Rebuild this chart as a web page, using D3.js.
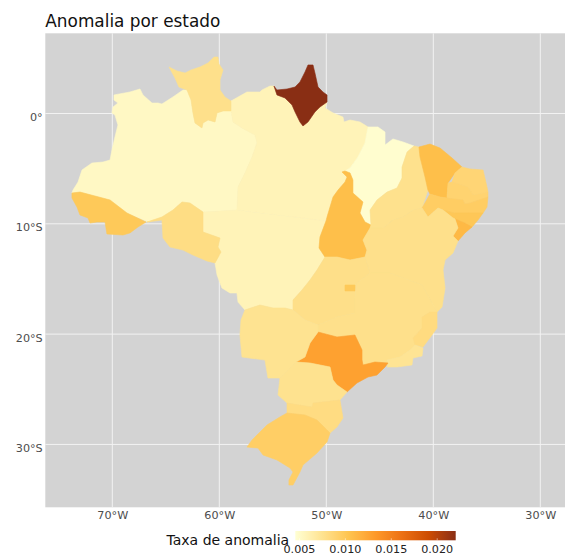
<!DOCTYPE html>
<html>
<head>
<meta charset="utf-8">
<script src="https://cdn.jsdelivr.net/npm/d3@7"></script>
<style>
html, body { margin: 0; padding: 0; background: #fff; overflow: hidden; }
svg { display: block; }
svg text { font-family: "DejaVu Sans", sans-serif; }
</style>
</head>
<body>
<div id="map"></div>
<script>
// anomaly rate
var stateNames = ['AM','PA','MT','MA','RR','RO','AC','AP','TO','PI','CE','RN','PB','PE','AL','SE','BA','GO','DF','MG','ES','RJ','SP','PR','MS','SC','RS']
var anomalyRates = [0.0053,0.0058,0.0058,0.0048,0.0078,0.0081,0.0100,0.0221,0.0108,0.0077,0.0108,0.0088,0.0090,0.0096,0.0101,0.0112,0.0078,0.0079,0.0100,0.0078,0.0083,0.0074,0.0128,0.0076,0.0075,0.0082,0.0095]

var xTicks = [-70,-60,-50,-40,-30]
var yTicks = [0,-10,-20,-30]
var legendTicks = [0.005,0.010,0.015,0.020]
var fillColors = ['#FFFFD4','#FEE391','#FEC44F','#FE9929','#EC7014','#CC4C02','#8A2E14']

// state borders, [lon, lat]
var AM = [[-69.84,1.68],[-68.35,1.95],[-67.41,2.22],[-67.13,1.68],[-66.29,0.95],[-65.73,0.95],[-65.36,0.86],[-64.33,1.5],[-63.39,2.13],[-63.02,2.13],[-62.64,1.22],[-62.46,0.05],[-62.27,-0.86],[-61.62,-1.31],[-61.52,-0.86],[-61.05,-0.59],[-60.4,-0.77],[-60.21,0.05],[-59.65,0.23],[-58.91,0.23],[-58.72,-0.77],[-57.88,-1.31],[-56.66,-1.95],[-56.48,-2.67],[-56.94,-3.94],[-57.6,-5.39],[-58.25,-6.66],[-58.35,-8.75],[-61.52,-8.93],[-62.74,-8.11],[-63.48,-8.02],[-64.33,-8.75],[-65.36,-9.38],[-66.66,-9.84],[-68.63,-9.02],[-70.21,-7.84],[-73.02,-7.12],[-73.77,-7.21],[-73.67,-6.94],[-73.2,-6.21],[-72.83,-5.12],[-71.9,-4.49],[-70.87,-4.4],[-70.21,-4.22],[-70.03,-3.31],[-69.75,-2.13],[-69.47,-1.04],[-69.75,-0.14],[-70.03,0.05],[-69.93,0.59],[-69.47,0.95],[-69.84,1.22]]
var PA = [[-58.91,1.13],[-57.41,1.95],[-56.2,1.95],[-56.01,2.13],[-55.26,2.49],[-54.89,2.49],[-54.61,1.68],[-53.86,1.41],[-53.2,0.77],[-52.92,0.14],[-52.46,-0.77],[-52.18,-1.13],[-51.71,-0.77],[-51.06,0.14],[-50.59,0.59],[-49.93,1.04],[-50.12,0.5],[-49.37,0.05],[-48.44,-0.32],[-48.35,-0.77],[-47.78,-0.59],[-46.85,-0.77],[-46.1,-1.22],[-46.38,-2.67],[-47.04,-3.94],[-47.78,-4.94],[-48.25,-5.21],[-48.53,-5.3],[-48.06,-5.76],[-48.25,-6.21],[-48.9,-6.94],[-49.37,-7.57],[-49.93,-9.38],[-50.03,-9.75],[-58.35,-8.75],[-58.25,-6.66],[-57.6,-5.39],[-56.94,-3.94],[-56.48,-2.67],[-56.66,-1.95],[-57.88,-1.31],[-58.72,-0.77],[-58.91,0.23]]
var MT = [[-61.52,-8.93],[-58.35,-8.75],[-50.03,-9.75],[-50.59,-11.2],[-50.68,-12.19],[-50.12,-13.01],[-50.87,-14.19],[-51.52,-15.09],[-52.27,-16],[-53.11,-16.91],[-53.11,-17.81],[-53.86,-17.63],[-54.98,-17.63],[-56.2,-17.36],[-57.6,-17.81],[-58.25,-17.1],[-58.35,-16.27],[-59,-16.27],[-59.75,-15.82],[-60.21,-14.64],[-60.4,-13.55],[-59.84,-12.56],[-60.12,-12.1],[-59.93,-11.29],[-61.52,-10.74]]
var MA = [[-46.1,-1.22],[-45.17,-1.22],[-44.51,-1.68],[-44.51,-2.86],[-43.77,-2.31],[-42.83,-2.58],[-41.8,-2.95],[-42.45,-3.49],[-42.92,-4.85],[-42.92,-5.85],[-43.39,-6.75],[-44.32,-7.12],[-45.26,-7.84],[-45.91,-8.75],[-45.82,-10.11],[-46.38,-9.84],[-46.85,-9.02],[-46.57,-8.02],[-47.51,-7.21],[-47.51,-6.03],[-47.78,-5.39],[-48.25,-5.21],[-47.78,-4.94],[-47.04,-3.94],[-46.38,-2.67]]
var RR = [[-64.7,4.22],[-63.95,3.85],[-63.2,3.67],[-62.64,3.94],[-61.8,4.22],[-61.05,4.58],[-60.49,5.12],[-60.12,5.12],[-60.03,4.49],[-59.65,3.94],[-59.93,3.04],[-59.93,2.13],[-59.47,1.5],[-58.91,1.13],[-58.91,0.23],[-59.65,0.23],[-60.21,0.05],[-60.4,-0.77],[-61.05,-0.59],[-61.52,-0.86],[-61.62,-1.31],[-62.27,-0.86],[-62.46,0.05],[-62.64,1.22],[-63.02,2.13],[-63.77,2.4],[-64.14,3.22]]
var RO = [[-63.48,-8.02],[-62.74,-8.11],[-61.52,-8.93],[-61.52,-10.74],[-59.93,-11.29],[-60.12,-12.1],[-59.84,-12.56],[-60.4,-13.55],[-61.15,-13.37],[-62.46,-12.83],[-63.39,-12.38],[-64.61,-12.1],[-65.26,-11.29],[-65.36,-9.66],[-66.76,-9.84],[-65.36,-9.38],[-64.33,-8.75]]
var AC = [[-73.77,-7.21],[-73.02,-7.12],[-70.21,-7.84],[-68.63,-9.02],[-66.85,-9.84],[-67.6,-10.29],[-68.35,-10.83],[-69,-11.02],[-70.5,-10.92],[-70.68,-9.84],[-71.43,-9.84],[-72.08,-9.93],[-72.27,-9.47],[-73.02,-9.2],[-73.3,-8.48],[-73.77,-7.66]]
var AP = [[-54.89,2.49],[-54.61,2.13],[-53.67,2.22],[-52.92,2.4],[-52.46,2.86],[-51.99,3.76],[-51.71,4.4],[-51.24,4.4],[-51.06,3.67],[-50.77,2.4],[-50.31,1.95],[-49.93,1.68],[-49.93,1.04],[-50.59,0.59],[-51.06,0.14],[-51.71,-0.77],[-52.18,-1.13],[-52.46,-0.77],[-52.92,0.14],[-53.2,0.77],[-53.86,1.41],[-54.61,1.68]]
var TO = [[-48.53,-5.3],[-48.25,-5.21],[-47.78,-5.39],[-47.51,-6.03],[-47.51,-7.21],[-46.57,-8.02],[-46.85,-9.02],[-46.38,-9.84],[-45.82,-10.11],[-45.91,-10.38],[-46.57,-11.47],[-46.2,-12.38],[-46.38,-13.01],[-47.78,-13.28],[-49,-13.01],[-50.12,-13.01],[-50.68,-12.19],[-50.59,-11.2],[-50.03,-9.75],[-49.93,-9.38],[-49.37,-7.57],[-48.9,-6.94],[-48.25,-6.21],[-48.06,-5.76]]
var PI = [[-41.8,-2.95],[-41.34,-3.04],[-41.24,-3.94],[-40.77,-5.76],[-40.5,-6.94],[-41.05,-8.57],[-41.9,-8.75],[-42.83,-9.38],[-43.77,-9.66],[-44.7,-10.38],[-45.91,-10.38],[-45.82,-10.11],[-45.91,-8.75],[-45.26,-7.84],[-44.32,-7.12],[-43.39,-6.75],[-42.92,-5.85],[-42.92,-4.85],[-42.45,-3.49]]
var CE = [[-41.34,-3.04],[-40.31,-2.77],[-39.37,-3.13],[-38.25,-4.03],[-37.32,-4.85],[-37.97,-5.39],[-38.62,-6.3],[-38.72,-7.66],[-39.37,-7.57],[-40.31,-7.3],[-40.5,-6.94],[-40.77,-5.76],[-41.24,-3.94]]
var RN = [[-37.32,-4.85],[-36.57,-5.03],[-35.35,-5.12],[-34.98,-6.66],[-34.89,-7.12],[-36.29,-7.39],[-36.75,-6.66],[-37.32,-6.48],[-38.25,-6.21],[-37.97,-5.39]]
var PB = [[-38.25,-6.21],[-37.32,-6.48],[-36.75,-6.66],[-36.29,-7.39],[-34.89,-7.12],[-34.89,-7.57],[-36.57,-8.11],[-37.04,-8.2],[-37.22,-7.84],[-38.72,-7.66],[-38.62,-6.3]]
var PE = [[-41.05,-8.57],[-40.31,-7.3],[-39.37,-7.57],[-38.72,-7.66],[-37.22,-7.84],[-37.04,-8.2],[-36.57,-8.11],[-34.89,-7.57],[-34.98,-8.48],[-35.35,-9.02],[-36.75,-9.02],[-37.97,-9.02],[-39.09,-8.75],[-39.56,-8.57],[-40.5,-9.38]]
var AL = [[-39.09,-8.75],[-37.97,-9.02],[-36.75,-9.02],[-35.35,-9.02],[-35.82,-9.66],[-36.38,-10.29],[-37.04,-9.93],[-37.97,-9.56],[-38.16,-9.47]]
var SE = [[-37.97,-9.56],[-37.04,-9.93],[-36.38,-10.29],[-37.04,-10.83],[-37.69,-11.56],[-38.16,-11.11],[-37.69,-10.38]]
var BA = [[-45.91,-10.38],[-44.7,-10.38],[-43.77,-9.66],[-42.83,-9.38],[-41.9,-8.75],[-41.05,-8.57],[-40.5,-9.38],[-39.56,-8.57],[-39.09,-8.75],[-38.16,-9.47],[-37.97,-9.56],[-37.69,-10.38],[-38.16,-11.11],[-37.69,-11.56],[-38.16,-12.65],[-38.9,-13.28],[-39.09,-14.19],[-38.9,-15.82],[-39.18,-17.54],[-39.65,-18],[-41.05,-15.55],[-44.04,-14.46],[-45.91,-14.46],[-46.38,-13.01],[-46.2,-12.38],[-46.57,-11.47]]
var GO = [[-50.12,-13.01],[-49,-13.01],[-47.78,-13.28],[-46.38,-13.01],[-45.91,-14.46],[-47.13,-15.37],[-47.32,-16.64],[-47.32,-18.09],[-49,-18.45],[-50.77,-19.17],[-51.99,-18.72],[-53.11,-17.81],[-53.11,-16.91],[-52.27,-16],[-51.52,-15.09],[-50.87,-14.19]]
var DF = [[-48.25,-15.55],[-47.32,-15.55],[-47.32,-16.09],[-48.25,-16.09]]
var MG = [[-45.91,-14.46],[-44.04,-14.46],[-41.05,-15.55],[-39.65,-18],[-40.31,-18],[-41.05,-18.45],[-41.05,-19.45],[-41.9,-20.35],[-41.71,-20.99],[-42.17,-21.44],[-43.11,-22.08],[-44.32,-22.35],[-44.23,-22.62],[-45.45,-22.53],[-46.57,-22.8],[-46.66,-22.35],[-46.66,-21.44],[-47.32,-20.08],[-49,-20.26],[-50.77,-19.81],[-50.77,-19.17],[-49,-18.45],[-47.32,-18.09],[-47.32,-16.64],[-47.13,-15.37]]
var ES = [[-40.31,-18],[-39.65,-18],[-39.65,-18.45],[-39.65,-19.45],[-40.12,-20.08],[-40.96,-21.17],[-41.71,-20.99],[-41.9,-20.35],[-41.05,-19.45],[-41.05,-18.45]]
var RJ = [[-44.23,-22.62],[-44.32,-22.98],[-43.39,-22.98],[-41.99,-22.8],[-41.9,-22.17],[-41.05,-21.98],[-40.96,-21.26],[-41.71,-20.99],[-42.17,-21.44],[-43.11,-22.08],[-44.32,-22.35]]
var SP = [[-52.83,-22.53],[-51.99,-22.08],[-51.52,-20.81],[-50.77,-19.81],[-49,-20.26],[-47.32,-20.08],[-46.66,-21.44],[-46.66,-22.35],[-46.57,-22.8],[-45.45,-22.53],[-44.23,-22.62],[-44.51,-22.98],[-45.26,-23.71],[-46.1,-23.89],[-47.13,-24.43],[-48.06,-25.25],[-49,-24.61],[-49.37,-24.16],[-49.65,-22.98],[-51.52,-22.62]]
var PR = [[-52.83,-22.53],[-51.52,-22.62],[-49.65,-22.98],[-49.37,-24.16],[-49,-24.61],[-48.06,-25.25],[-48.72,-25.97],[-51.24,-26.25],[-51.34,-26.61],[-53.67,-26.25],[-54.51,-25.52],[-54.33,-23.98]]
var MS = [[-57.6,-17.81],[-56.2,-17.36],[-54.98,-17.63],[-53.86,-17.63],[-53.11,-17.81],[-51.99,-18.72],[-50.77,-19.17],[-50.77,-19.81],[-51.52,-20.81],[-51.99,-22.08],[-52.83,-22.53],[-54.33,-23.98],[-55.45,-23.98],[-55.73,-22.35],[-57.88,-22.08],[-58.07,-20.08],[-57.97,-18.72]]
var SC = [[-53.67,-26.25],[-51.34,-26.61],[-51.24,-26.25],[-48.72,-25.97],[-48.44,-27.61],[-49,-28.42],[-49.65,-28.97],[-49.93,-28.69],[-50.87,-27.79],[-51.99,-27.33],[-53.67,-27.15]]
var RS = [[-53.67,-27.15],[-51.99,-27.33],[-50.87,-27.79],[-49.93,-28.69],[-49.65,-28.97],[-49.93,-29.78],[-50.87,-30.78],[-52.18,-31.87],[-52.46,-32.5],[-53.11,-33.68],[-53.49,-33.68],[-53.49,-33.23],[-53.11,-32.5],[-53.39,-32.14],[-54.61,-31.41],[-55.91,-30.96],[-56.38,-30.33],[-57.41,-30.24],[-56.94,-29.6],[-55.54,-28.24],[-54.33,-27.51]]
var stateBorders = [AM,PA,MT,MA,RR,RO,AC,AP,TO,PI,CE,RN,PB,PE,AL,SE,BA,GO,DF,MG,ES,RJ,SP,PR,MS,SC,RS]

var width = 565, height = 554
var panel = {left: 45.3, right: 565, top: 33.3, bottom: 507.3}

var x = d3.scaleLinear().domain([-76.26, -27.69]).range([panel.left, panel.right])
var y = d3.scaleLinear().domain([7.27, -35.7]).range([panel.top, panel.bottom])

var rateMin = 0.0046, rateMax = 0.02207
var color = d3.scaleLinear()
	.domain(d3.quantize(d3.interpolateNumber(rateMin, rateMax), fillColors.length))
	.range(fillColors)
	.interpolate(d3.interpolateLab)

var svg = d3.select('#map').append('svg')
	.attr('width', width)
	.attr('height', height)

svg.append('rect')
	.attr('x', panel.left)
	.attr('y', panel.top)
	.attr('width', panel.right - panel.left)
	.attr('height', panel.bottom - panel.top)
	.attr('fill', '#D3D3D3')

function lonLabel(d) { return Math.abs(d) + '°W' }
function latLabel(d) { return d == 0 ? '0°' : Math.abs(d) + '°S' }

// no tick marks in this theme, only the labels
var xAxis = svg.append('g')
	.attr('transform', 'translate(0,' + panel.bottom + ')')
	.call(d3.axisBottom(x).tickValues(xTicks).tickFormat(lonLabel).tickSize(0).tickPadding(3.7))
var yAxis = svg.append('g')
	.attr('transform', 'translate(' + panel.left + ',0)')
	.call(d3.axisLeft(y).tickValues(yTicks).tickFormat(latLabel).tickSize(0).tickPadding(2.6))

xAxis.select('.domain').remove()
yAxis.select('.domain').remove()
svg.selectAll('.tick text').attr('fill', '#4D4D4D').style('font-size', '11.2px')
yAxis.selectAll('.tick text').attr('y', 3.5)

// gridlines
svg.append('g').selectAll('line').data(xTicks).enter().append('line')
	.attr('x1', x).attr('x2', x)
	.attr('y1', panel.top).attr('y2', panel.bottom)
	.attr('stroke', '#F2F2F2').attr('stroke-width', 1)
svg.append('g').selectAll('line').data(yTicks).enter().append('line')
	.attr('y1', y).attr('y2', y)
	.attr('x1', panel.left).attr('x2', panel.right)
	.attr('stroke', '#F2F2F2').attr('stroke-width', 1)

var ring = d3.line()
	.x(function(d) { return x(d[0]) })
	.y(function(d) { return y(d[1]) })
	.curve(d3.curveLinearClosed)

svg.append('g').selectAll('path')
	.data(stateBorders)
	.enter()
	.append('path')
	.attr('d', ring)
	.attr('fill', function(d, i) { return color(anomalyRates[i]) })
	.attr('stroke', function(d, i) { return color(anomalyRates[i]) })
	.attr('stroke-width', 0.6)
	.attr('stroke-linejoin', 'round')

svg.append('text')
	.attr('x', 45.3)
	.attr('y', 27.3)
	.attr('fill', '#111')
	.style('font-size', '16.9px')
	.text('Anomalia por estado')

// Legend
var legendX = d3.scaleLinear().domain([rateMin, rateMax]).range([295.3, 455.7])
var legendTop = 531, legendHeight = 9.3

var gradient = svg.append('defs').append('linearGradient')
	.attr('id', 'gradient')
gradient.selectAll('stop')
	.data(d3.quantize(d3.interpolateNumber(rateMin, rateMax), 25))
	.enter()
	.append('stop')
	.attr('offset', function(d) { return (d - rateMin) / (rateMax - rateMin) })
	.attr('stop-color', function(d) { return color(d) })

svg.append('rect')
	.attr('x', legendX(rateMin))
	.attr('y', legendTop)
	.attr('width', legendX(rateMax) - legendX(rateMin))
	.attr('height', legendHeight)
	.style('fill', 'url(#gradient)')

var legendAxis = svg.append('g')
	.attr('transform', 'translate(0,' + (legendTop + legendHeight) + ')')
	.call(d3.axisBottom(legendX).tickValues(legendTicks).tickFormat(d3.format('.3f')).tickSize(0).tickPadding(4.5))
legendAxis.select('.domain').remove()
legendAxis.selectAll('line').attr('stroke', '#fff').attr('stroke-opacity', 0.5).attr('y1', -2).attr('y2', 0)
legendAxis.selectAll('text').attr('fill', '#222').style('font-size', '11.2px')

svg.append('text')
	.attr('x', 166.5)
	.attr('y', 544.5)
	.attr('fill', '#111')
	.style('font-size', '14px')
	.text('Taxa de anomalia')
</script>
</body>
</html>
